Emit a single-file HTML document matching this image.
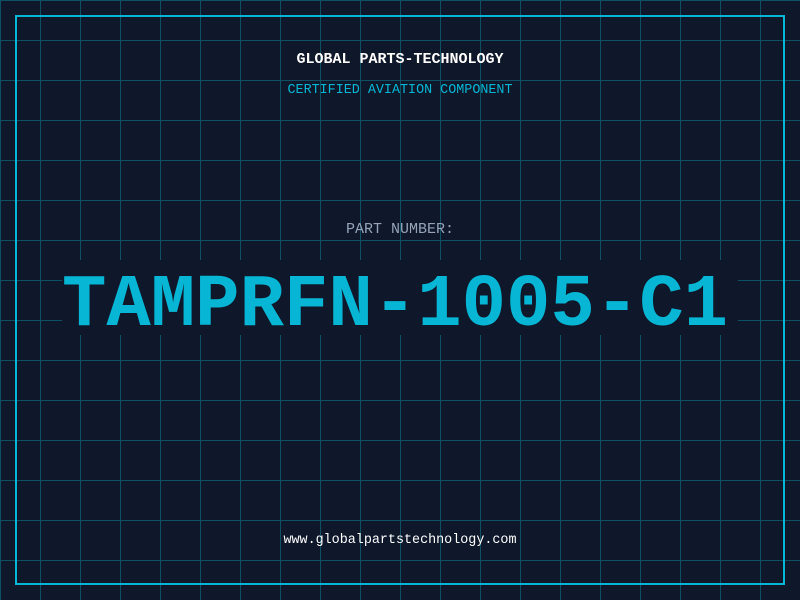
<!DOCTYPE html>
<html><head><style>
html,body{margin:0;padding:0;background:#0f172a;}
svg{display:block}
</style></head><body>
<svg width="800" height="600" xmlns="http://www.w3.org/2000/svg">
<defs>
<pattern id="g" width="40" height="40" patternUnits="userSpaceOnUse">
<path d="M0.5 0V40M0 0.5H40" stroke="#0e5164" stroke-width="1" fill="none"/>
</pattern>
</defs>
<rect width="800" height="600" fill="#0f172a"/>
<rect width="800" height="600" fill="url(#g)"/>
<rect x="16" y="16" width="768" height="568" fill="none" stroke="#06b6d4" stroke-width="2"/>
<rect x="62" y="260" width="676" height="75" fill="#0f172a"/>
<g font-family="Liberation Mono, monospace" text-anchor="middle">
<text x="400" y="63" font-size="15" fill="#ffffff" font-weight="bold">GLOBAL PARTS-TECHNOLOGY</text>
<text x="400" y="93" font-size="13.4" fill="#06b6d4">CERTIFIED AVIATION COMPONENT</text>
<text x="400" y="233" font-size="15" fill="#94a3b8">PART NUMBER:</text>
<text x="395" y="325" font-size="74" fill="#06b6d4" font-weight="bold">TAMPRFN-1005-C1</text>
<text x="400" y="543" font-size="13.4" fill="#ffffff">www.globalpartstechnology.com</text>
</g>
</svg>
</body></html>
